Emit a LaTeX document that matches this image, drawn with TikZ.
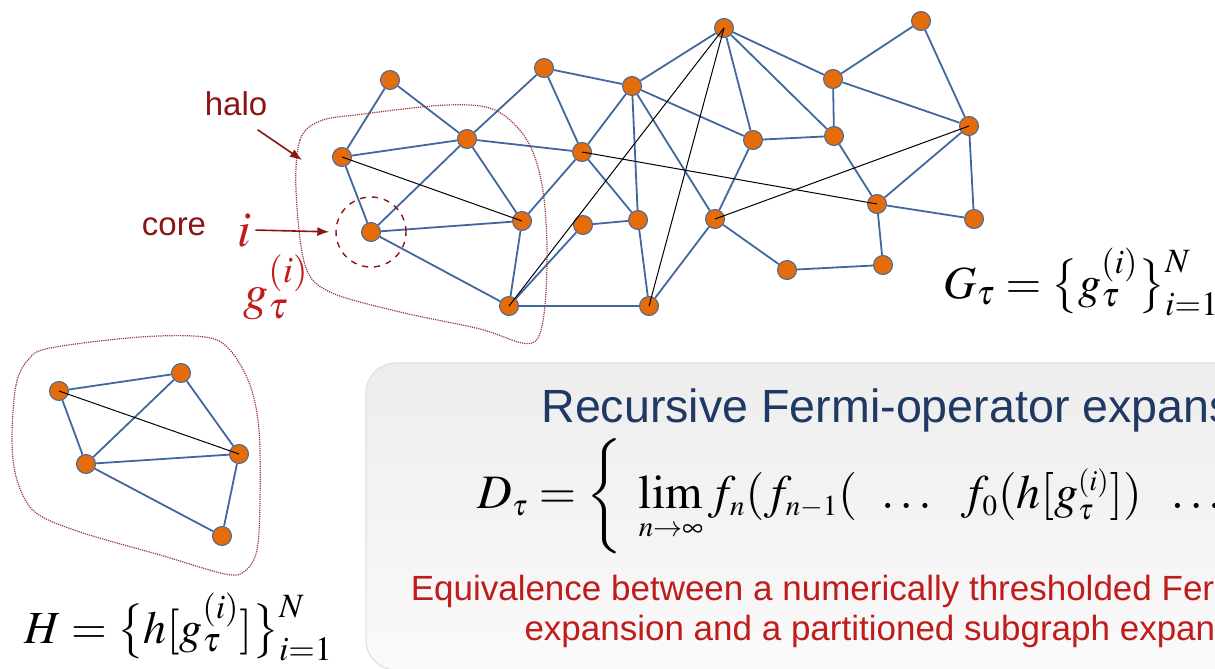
\documentclass[tikz,border=0pt]{standalone}
\usepackage{mathptmx}
\usepackage[no-math]{fontspec}
\setsansfont{Liberation Sans}
\usetikzlibrary{arrows.meta}
\DeclareMathSizes{24}{24}{14.5}{11}
\definecolor{vtxorange}{RGB}{228,108,10}
\definecolor{edgeblue}{RGB}{66,103,158}
\definecolor{halored}{RGB}{139,20,20}
\definecolor{labelred}{RGB}{192,28,28}
\definecolor{titleblue}{RGB}{31,56,100}
\begin{document}
\begin{tikzpicture}[x=0.5pt,y=-0.5pt,
  vtx/.style={circle,fill=vtxorange,draw=edgeblue,line width=0.5pt,inner sep=0pt,minimum size=9.5pt},
  bedge/.style={edgeblue,line width=0.9pt},
  kedge/.style={black,line width=0.5pt},
  outline/.style={halored!85!white,line width=0.6pt,dash pattern=on 0.6pt off 0.5pt},
  redarrow/.style={halored,line width=0.8pt,-{Latex[length=6pt,width=4.5pt]}},
  sflabel/.style={font=\sffamily\fontsize{16.5}{20}\selectfont,inner sep=1pt}]
  \useasboundingbox (0,0) rectangle (1215,669);
  \clip (0,0) rectangle (1215,669);
  \draw[rounded corners=15pt,top color=black!7,bottom color=black!2,draw=black!12,line width=0.6pt] (366,363) rectangle (1500,670);
  \foreach \n/\x/\y in {a/390/80,b/544/68,c/632/86,d/724/28,e/921/21,f/833/79,g/342/157,h/467/139,i/582/152,
      j/753/140,k/834/136,l/969/126,core/371/232,m/522/221,n/583/225,o/638/220,p/715/219,q/877/204,
      r/974/219,s/787/270,t/883/265,u/509/306,v/649/306}
    \node[vtx] (\n) at (\x,\y) {};
  \foreach \u/\v in {a/g,a/h,g/h,g/core,h/core,h/b,h/i,h/m,b/c,b/i,c/d,c/i,c/j,c/o,c/p,i/m,i/o,d/j,d/k,d/f,
      f/e,f/k,f/l,e/l,j/k,j/p,k/q,l/q,l/r,q/r,q/t,p/s,p/v,s/t,n/o,n/u,o/v,u/v,m/u,core/m,core/u}
    \draw[bedge] (\u) -- (\v);
  \foreach \u/\v in {g/m,i/q,d/u,d/v,p/l}
    \draw[kedge] (\u.center) -- (\v.center);
  \draw[outline] plot[smooth cycle,tension=0.55] coordinates {(296,190) (300,140) (320,121) (363,114) (447,105)
      (495,110) (527,140) (542,185) (547,245) (545,305) (538,338) (522,343) (480,329) (400,312) (330,292) (305,265)};
  \node[circle,draw=halored,dashed,line width=0.7pt,minimum size=35pt,inner sep=0pt] (corering) at (core) {};
  \node[sflabel,text=halored,anchor=base] (halo) at (236,115) {halo};
  \coordinate (halotip) at (302,160);
  \draw[redarrow] ([xshift=-6pt,yshift=-6pt]halo.south east) -- (halotip);
  \node[sflabel,text=halored,anchor=base] (corelabel) at (174,235) {core};
  \node[text=labelred,anchor=base,font=\fontsize{25}{30}\selectfont,inner sep=2pt] (ilabel) at (244,246) {$i$};
  \draw[redarrow,shorten >=3pt] (ilabel.east) -- (corering.west);
  \node[text=labelred,anchor=base west,font=\fontsize{25}{30}\selectfont,inner sep=0pt] (glabel) at (243,309) {$g_\tau^{(i)}$};
  \node[anchor=base west,font=\fontsize{23}{27}\selectfont,inner sep=0pt] (gset) at (943,298)
    {$G_\tau=\bigl\{g_\tau^{(i)}\bigr\}_{i=1}^{N}$};
  \foreach \n/\x/\y in {h1/59/391,h2/181/373,h3/86/464,h4/239/454,h5/222/536}
    \node[vtx] (\n) at (\x,\y) {};
  \foreach \u/\v in {h1/h2,h1/h3,h2/h3,h2/h4,h3/h4,h3/h5,h4/h5}
    \draw[bedge] (\u) -- (\v);
  \draw[kedge] (h1.center) -- (h4.center);
  \draw[outline] plot[smooth cycle,tension=0.55] coordinates {(12,440) (16,385) (28,360) (50,348) (140,337) (205,337)
      (230,350) (250,385) (259,430) (260,500) (257,550) (245,571) (225,574) (160,555) (80,532) (35,512) (17,480)};
  \node[anchor=base west,font=\fontsize{23}{27}\selectfont,inner sep=0pt] (hset) at (24,643)
    {$H=\bigl\{h[g_\tau^{(i)}]\bigr\}_{i=1}^{N}$};
  \node[anchor=base west,text=titleblue,font=\sffamily\fontsize{23.3}{28}\selectfont,inner sep=0pt] (title) at (541,422)
    {Recursive Fermi-operator expansion};
  \node[anchor=base west,font=\fontsize{24}{28.8}\selectfont,inner sep=0pt] (dset) at (477,508)
    {$D_\tau=\left\{\rule[-22pt]{0pt}{56pt}\;\lim\limits_{n\to\infty} f_n(f_{n-1}(\enskip\dots\enskip f_0(h[g_\tau^{(i)}])\enskip\dots\enskip))\right\}_{i=1}^{N}$};
  \node[anchor=base,text=labelred,font=\sffamily\fontsize{17.5}{20}\selectfont,inner sep=0pt] (eqa) at (902,600)
    {Equivalence between a numerically thresholded Fermi-operator};
  \node[anchor=base,text=labelred,font=\sffamily\fontsize{17.5}{20}\selectfont,inner sep=0pt] (eqb) at (902,640)
    {expansion and a partitioned subgraph expansion};
\end{tikzpicture}
\end{document}
